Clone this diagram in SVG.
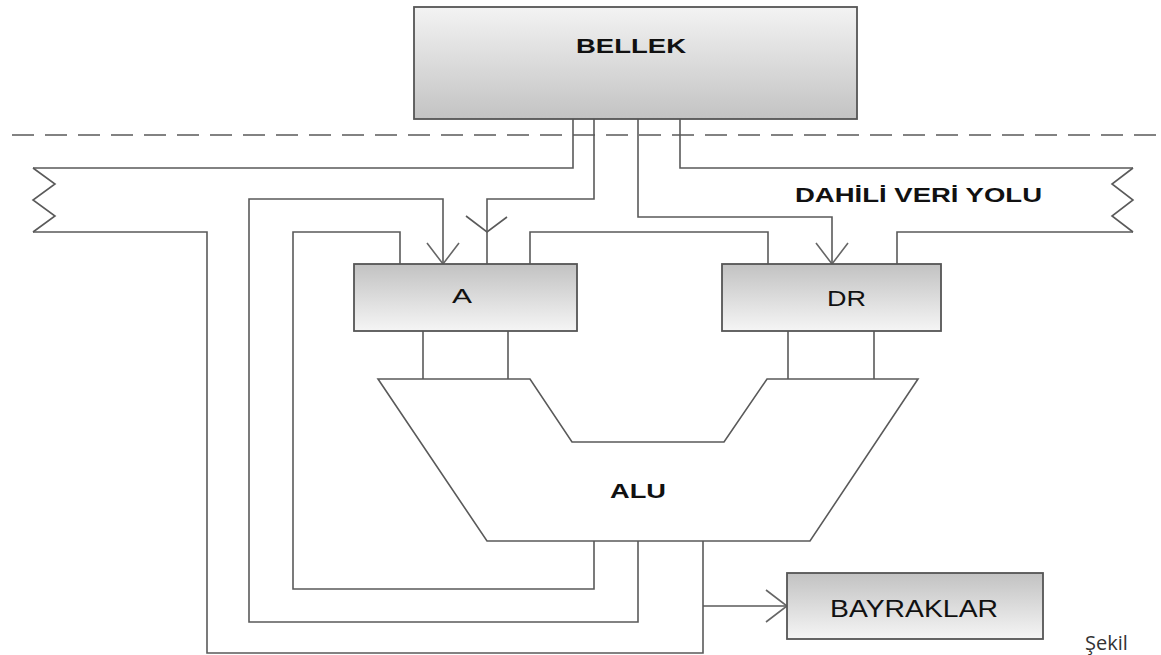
<svg xmlns="http://www.w3.org/2000/svg" width="1161" height="655" viewBox="0 0 1161 655">
<defs>
<linearGradient id="gDown" x1="0" y1="0" x2="0" y2="1"><stop offset="0" stop-color="#f3f3f3"/><stop offset="1" stop-color="#c3c3c3"/></linearGradient>
<linearGradient id="gUp" x1="0" y1="0" x2="0" y2="1"><stop offset="0" stop-color="#c2c2c2"/><stop offset="1" stop-color="#f5f5f5"/></linearGradient>
<marker id="arr" viewBox="0 0 24 34" refX="22" refY="17" markerWidth="24" markerHeight="34" markerUnits="userSpaceOnUse" orient="auto"><path d="M1,1 L22,17 L1,33" fill="none" stroke="#666" stroke-width="1.6"/></marker>
</defs>
<style>
.ln{fill:none;stroke:#5a5a5a;stroke-width:1.6}
.box{stroke:#555;stroke-width:1.8}
.t{font-family:"Liberation Sans",Arial,sans-serif;fill:#111}
.b{font-weight:bold}
</style>
<rect width="1161" height="655" fill="#fff"/>
<g id="connectors">
<path class="ln" d="M12,135 H1161" stroke-dasharray="22 11" stroke="#444"/>
<path class="ln" d="M33,168 H573 V119"/>
<path class="ln" d="M680,119 V168 H1133"/>
<path class="ln" d="M1133,168 L1112,184 L1133,200 L1112,216 L1133,232"/>
<path class="ln" d="M1133,232 H897 V264"/>
<path class="ln" d="M33,168 L55,184 L33,200 L55,216 L33,232"/>
<path class="ln" d="M33,232 H207 V653 H703 V541"/>
<path class="ln" d="M703,606 H787" marker-end="url(#arr)"/>
<path class="ln" d="M594,541 V589 H293 V232 H400 V264"/>
<path class="ln" d="M638,541 V622 H249 V199 H443 V264" marker-end="url(#arr)"/>
<path class="ln" d="M594,119 V199 H487 V264"/>
<path class="ln" d="M466,216 L487,232 L507,217"/>
<path class="ln" d="M638,119 V217 H832 V264" marker-end="url(#arr)"/>
<path class="ln" d="M530,264 V232 H768 V264"/>
<path class="ln" d="M423,331 V379 M508,331 V379 M788,331 V379 M874,331 V379"/>
</g>
<g id="bus-label">
<text class="t b" x="795" y="202" font-size="21" textLength="247" lengthAdjust="spacingAndGlyphs">DAHİLİ VERİ YOLU</text>
</g>
<g id="bellek">
<rect class="box" x="414" y="7" width="443" height="112" fill="url(#gDown)"/>
<text class="t b" x="576" y="53" font-size="21" textLength="110" lengthAdjust="spacingAndGlyphs">BELLEK</text>
</g>
<g id="reg-a">
<rect class="box" x="354" y="264" width="223" height="67" fill="url(#gUp)"/>
<text class="t" x="452" y="303" font-size="21" textLength="20" lengthAdjust="spacingAndGlyphs">A</text>
</g>
<g id="reg-dr">
<rect class="box" x="722" y="264" width="219" height="67" fill="url(#gUp)"/>
<text class="t" x="827" y="306" font-size="22" textLength="39" lengthAdjust="spacingAndGlyphs">DR</text>
</g>
<g id="alu">
<path class="ln" d="M378,379 H530 L572,442 H724 L767,379 H918 L810,541 H487 Z" fill="#fff"/>
<text class="t b" x="610" y="498" font-size="21" textLength="56" lengthAdjust="spacingAndGlyphs">ALU</text>
</g>
<g id="bayraklar">
<rect class="box" x="787" y="573" width="256" height="66" fill="url(#gUp)"/>
<text class="t" x="830" y="617" font-size="24" textLength="168" lengthAdjust="spacingAndGlyphs">BAYRAKLAR</text>
</g>
<g id="caption">
<text x="1085" y="650" font-size="20" fill="#333" font-family="'Open Sans','Liberation Sans',sans-serif">Şekil</text>
</g>
</svg>
